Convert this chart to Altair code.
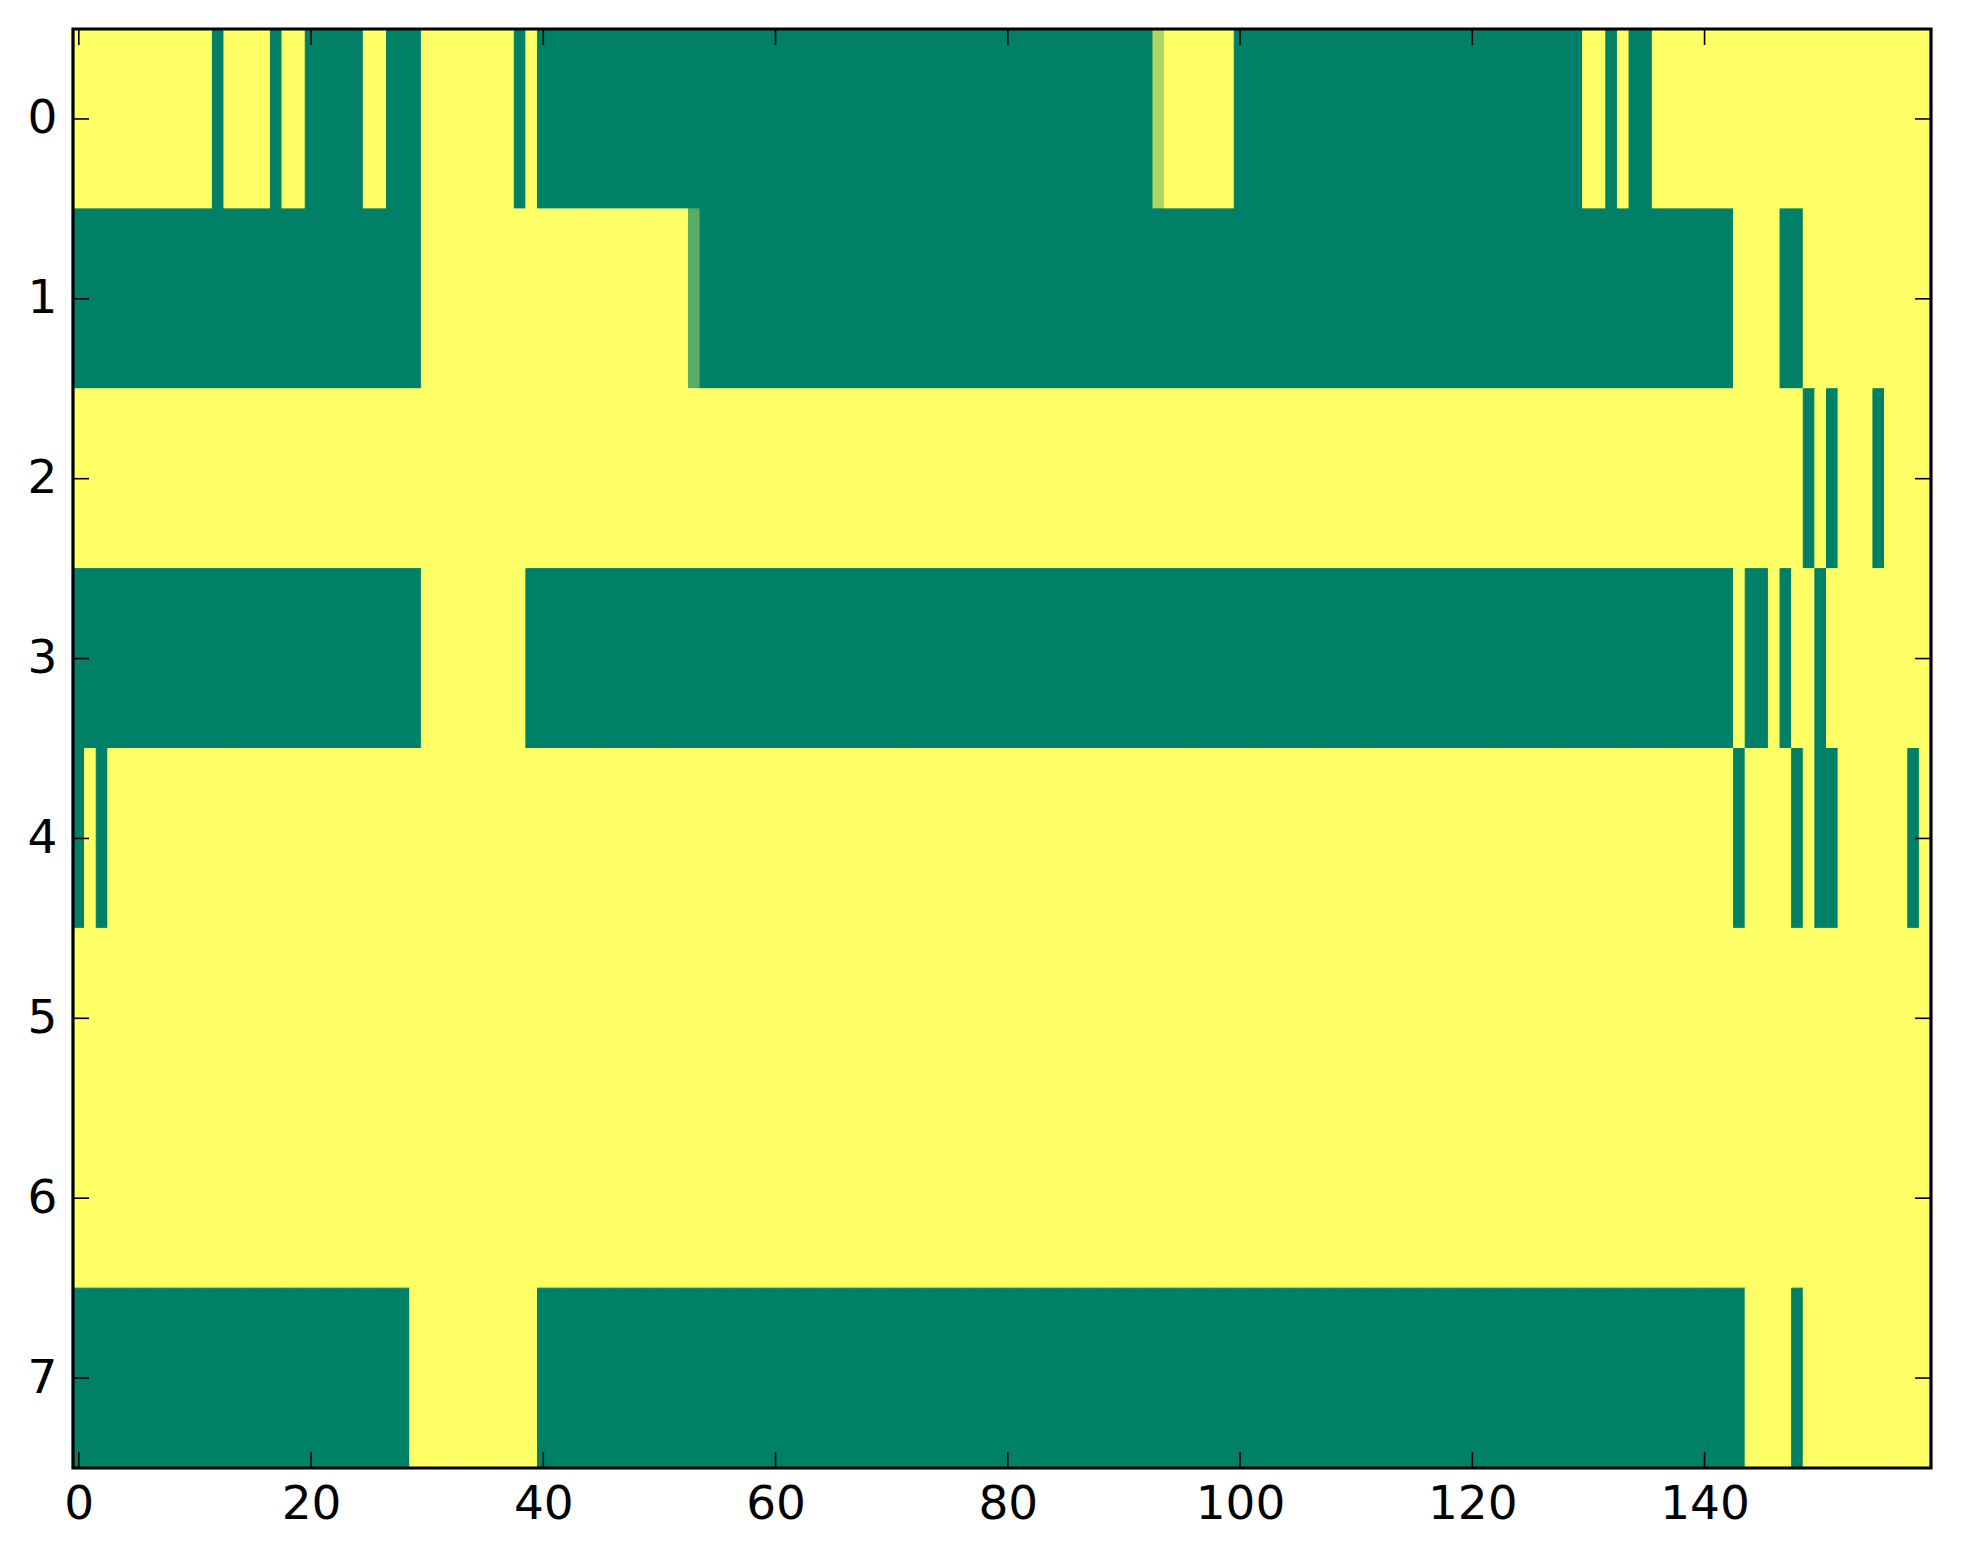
import altair as alt
import pandas as pd

# Each row of the image, as runs of (value, number of columns); 160 columns per row
row0 = [(1, 12), (0, 1), (1, 4), (0, 1), (1, 2), (0, 5), (1, 2), (0, 3), (1, 8), (0, 1),
        (1, 1), (0, 53), (0.67, 1), (1, 6), (0, 30), (1, 2), (0, 1), (1, 1), (0, 2), (1, 24)]
row1 = [(0, 30), (1, 23), (0.35, 1), (0, 89), (1, 4), (0, 2), (1, 11)]
row2 = [(1, 149), (0, 1), (1, 1), (0, 1), (1, 3), (0, 1), (1, 4)]
row3 = [(0, 30), (1, 9), (0, 104), (1, 1), (0, 2), (1, 1), (0, 1), (1, 2), (0, 1), (1, 9)]
row4 = [(0, 1), (1, 1), (0, 1), (1, 140), (0, 1), (1, 4), (0, 1), (1, 1), (0, 2), (1, 6), (0, 1), (1, 1)]
row5 = [(1, 160)]
row6 = [(1, 160)]
row7 = [(0, 29), (1, 11), (0, 104), (1, 4), (0, 1), (1, 11)]

rows = [row0, row1, row2, row3, row4, row5, row6, row7]
x_ticks = [0, 20, 40, 60, 80, 100, 120, 140]
y_ticks = [0, 1, 2, 3, 4, 5, 6, 7]

recs = []
for r, runs in enumerate(rows):
    c = 0
    for v, n in runs:
        for k in range(n):
            col = c + k
            recs.append({"row": r, "col": col, "x0": col - 0.5, "x1": col + 0.5,
                         "y0": r - 0.5, "y1": r + 0.5, "v": v})
        c += n
cells = pd.DataFrame(recs)

W, H = 1858, 1439
FONT = "DejaVu Sans"
FS = 47

xscale = alt.Scale(domain=[-0.5, 159.5], nice=False, zero=False)
yscale = alt.Scale(domain=[-0.5, 7.5], nice=False, zero=False, reverse=True)
cscale = alt.Scale(domain=[0, 1], range=["#008066", "#ffff66"], interpolate="rgb")

heat = alt.Chart(cells).mark_rect(strokeWidth=1).encode(
    x=alt.X("x0:Q", scale=xscale,
            axis=alt.Axis(values=x_ticks, format="d", title=None, grid=False, ticks=False,
                          domain=False, labelFont=FONT, labelFontSize=FS, labelColor="black",
                          labelPadding=13, labelFlush=False)),
    x2="x1:Q",
    y=alt.Y("y0:Q", scale=yscale,
            axis=alt.Axis(values=y_ticks, format="d", title=None, grid=False, ticks=False,
                          domain=False, labelFont=FONT, labelFontSize=FS, labelColor="black",
                          labelPadding=16, labelFlush=False)),
    y2="y1:Q",
    color=alt.Color("v:Q", scale=cscale, legend=None),
    stroke=alt.Stroke("v:Q", scale=cscale, legend=None),
)

xt = pd.DataFrame({"t": x_ticks})
yt = pd.DataFrame({"t": y_ticks})
TL = 16

xtick_b = alt.Chart(xt).mark_rule(color="black", strokeWidth=1.6).encode(
    x=alt.X("t:Q", scale=xscale), y=alt.value(H), y2=alt.value(H - TL))
xtick_t = alt.Chart(xt).mark_rule(color="black", strokeWidth=1.6).encode(
    x=alt.X("t:Q", scale=xscale), y=alt.value(0), y2=alt.value(TL))
ytick_l = alt.Chart(yt).mark_rule(color="black", strokeWidth=1.6).encode(
    y=alt.Y("t:Q", scale=yscale), x=alt.value(0), x2=alt.value(TL))
ytick_r = alt.Chart(yt).mark_rule(color="black", strokeWidth=1.6).encode(
    y=alt.Y("t:Q", scale=yscale), x=alt.value(W), x2=alt.value(W - TL))

frame = alt.Chart(pd.DataFrame({"a": [0]})).mark_rect(
    filled=False, stroke="black", strokeWidth=3.2).encode(
    x=alt.value(0), x2=alt.value(W), y=alt.value(0), y2=alt.value(H))

chart = alt.layer(heat, xtick_b, xtick_t, ytick_l, ytick_r, frame).properties(
    width=W, height=H,
    autosize=alt.AutoSizeParams(type="none"),
    padding={"left": 65, "top": 21, "right": 20, "bottom": 90},
    background="white",
).configure_view(stroke=None)

chart.save("out.html", embed_options={"renderer": "svg", "actions": False})
